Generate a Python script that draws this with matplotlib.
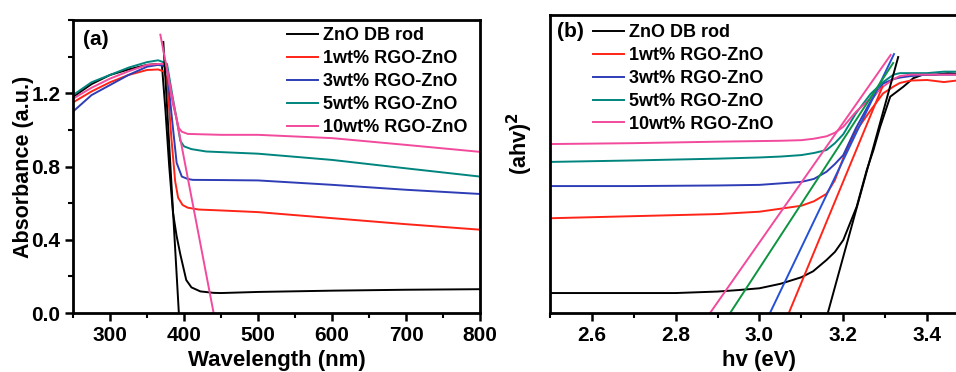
import matplotlib
matplotlib.use("Agg")
import matplotlib.pyplot as plt
from matplotlib.ticker import MultipleLocator

plt.rcParams["font.family"] = ["Liberation Sans", "DejaVu Sans"]
plt.rcParams["font.weight"] = "bold"

labels = ["ZnO DB rod", "1wt% RGO-ZnO", "3wt% RGO-ZnO", "5wt% RGO-ZnO", "10wt% RGO-ZnO"]
colors = ["#000000", "#ff2418", "#2e3db6", "#00857e", "#f24a9c"]
fit_colors = ["#000000", "#ff2418", "#2450d6", "#0c9440", "#f24a9c"]

# ---- panel (a): absorbance spectra, wavelength in nm
wl_black = [250, 275, 300, 325, 350, 365, 370, 375, 380, 385, 390, 395, 403, 410, 422, 440, 450, 500, 600, 700, 800]
ab_black = [1.18, 1.25, 1.30, 1.33, 1.355, 1.36, 1.36, 1.10, 0.80, 0.55, 0.42, 0.32, 0.18, 0.14, 0.118, 0.11, 0.109, 0.115, 0.122, 0.127, 0.13]

wl_red = [250, 275, 300, 325, 350, 365, 372, 377, 383, 388, 392, 398, 405, 420, 450, 500, 600, 700, 800]
ab_red = [1.15, 1.21, 1.26, 1.30, 1.327, 1.33, 1.32, 1.28, 0.95, 0.72, 0.63, 0.59, 0.575, 0.565, 0.56, 0.551, 0.518, 0.485, 0.455]
wl_blue = [250, 275, 300, 325, 350, 365, 372, 377, 384, 390, 397, 405, 412, 450, 500, 600, 700, 800]
ab_blue = [1.10, 1.19, 1.245, 1.30, 1.345, 1.355, 1.35, 1.33, 1.05, 0.82, 0.745, 0.732, 0.727, 0.726, 0.724, 0.70, 0.673, 0.65]
wl_teal = [250, 275, 300, 325, 350, 365, 372, 377, 385, 390, 395, 400, 410, 430, 500, 600, 700, 800]
ab_teal = [1.19, 1.26, 1.30, 1.34, 1.37, 1.38, 1.37, 1.36, 1.17, 1.06, 0.94, 0.91, 0.895, 0.882, 0.87, 0.836, 0.79, 0.745]
wl_pink = [250, 275, 300, 325, 350, 365, 372, 376, 380, 385, 390, 393, 397, 405, 450, 500, 600, 700, 800]
ab_pink = [1.17, 1.23, 1.28, 1.32, 1.355, 1.36, 1.36, 1.36, 1.25, 1.14, 1.06, 1.01, 0.99, 0.978, 0.973, 0.973, 0.955, 0.918, 0.88]

fit_a_black = ([372, 393], [1.48, 0.0])
fit_a_pink = ([368, 440], [1.52, 0.0])

# ---- panel (b): Tauc plot, photon energy in eV (arbitrary y units)
ev_black = [2.5, 2.7, 2.8, 2.9, 2.95, 3.0, 3.05, 3.1, 3.128, 3.16, 3.18, 3.2, 3.232, 3.256, 3.272, 3.288, 3.312, 3.343, 3.367, 3.39, 3.42, 3.45, 3.5]
tau_black = [0.067, 0.067, 0.067, 0.072, 0.077, 0.083, 0.098, 0.12, 0.14, 0.178, 0.205, 0.245, 0.357, 0.48, 0.547, 0.625, 0.726, 0.759, 0.788, 0.80, 0.80, 0.805, 0.80]

ev_col = [2.5, 2.7, 2.9, 3.0, 3.05, 3.1, 3.13, 3.16, 3.18, 3.2, 3.23, 3.265, 3.295, 3.32, 3.335, 3.36, 3.4, 3.44, 3.47, 3.5]
tau_red = [0.318, 0.325, 0.332, 0.34, 0.35, 0.36, 0.375, 0.40, 0.446, 0.52, 0.61, 0.68, 0.737, 0.76, 0.772, 0.78, 0.782, 0.775, 0.78, 0.78]
tau_blue = [0.426, 0.426, 0.428, 0.43, 0.435, 0.44, 0.45, 0.474, 0.50, 0.53, 0.62, 0.71, 0.77, 0.785, 0.79, 0.795, 0.80, 0.80, 0.80, 0.80]
tau_teal = [0.507, 0.512, 0.518, 0.522, 0.525, 0.53, 0.537, 0.547, 0.57, 0.60, 0.67, 0.735, 0.775, 0.80, 0.805, 0.805, 0.805, 0.81, 0.81, 0.81]
tau_pink = [0.567, 0.57, 0.575, 0.577, 0.578, 0.58, 0.585, 0.593, 0.605, 0.625, 0.675, 0.72, 0.76, 0.785, 0.795, 0.80, 0.80, 0.80, 0.80, 0.80]

fit_b_x = [[3.163, 3.331], [3.07, 3.293], [3.025, 3.321], [2.93, 3.319], [2.882, 3.313]]
fit_b_y = [[0.0, 0.859], [0.0, 0.758], [0.0, 0.869], [0.0, 0.839], [0.0, 0.866]]

fig = plt.figure(figsize=(9.56, 3.72), dpi=100)
ax1 = fig.add_axes([0.0764, 0.1586, 0.4257, 0.7876])
ax2 = fig.add_axes([0.5753, 0.1586, 0.4383, 0.8010])

lw = 1.4
ax1.plot(wl_black, ab_black, color=colors[0], lw=lw, label=labels[0])
ax1.plot(wl_red, ab_red, color=colors[1], lw=lw, label=labels[1])
ax1.plot(wl_blue, ab_blue, color=colors[2], lw=lw, label=labels[2])
ax1.plot(wl_teal, ab_teal, color=colors[3], lw=lw, label=labels[3])
ax1.plot(wl_pink, ab_pink, color=colors[4], lw=lw, label=labels[4])
ax1.plot(*fit_a_black, color=colors[0], lw=lw)
ax1.plot(*fit_a_pink, color=colors[4], lw=lw)

ax1.set_xlim(250, 800)
ax1.set_ylim(0, 1.6)
ax1.xaxis.set_minor_locator(MultipleLocator(50))
ax1.yaxis.set_minor_locator(MultipleLocator(0.2))
ax1.set_xticks([300, 400, 500, 600, 700, 800])
ax1.set_yticks([0.0, 0.4, 0.8, 1.2])
ax1.set_xlabel("Wavelength (nm)", fontsize=16, fontweight="bold", labelpad=4)
ax1.set_ylabel("Absorbance (a.u.)", fontsize=15.5, fontweight="bold")
ax1.yaxis.set_label_coords(-0.097, 0.5)
ax1.text(0.025, 0.965, "(a)", transform=ax1.transAxes, fontsize=15, fontweight="bold", va="top")
leg_kw = dict(loc="upper left", frameon=False, handlelength=1.72, handletextpad=0.28,
              labelspacing=0.33, borderpad=0, borderaxespad=0,
              prop={"weight": "bold", "size": 13})
ax1.legend(bbox_to_anchor=(0.526, 0.976), **leg_kw)

ax2.plot(ev_black, tau_black, color=colors[0], lw=lw, label=labels[0])
ax2.plot(ev_col, tau_red, color=colors[1], lw=lw, label=labels[1])
ax2.plot(ev_col, tau_blue, color=colors[2], lw=lw, label=labels[2])
ax2.plot(ev_col, tau_teal, color=colors[3], lw=lw, label=labels[3])
ax2.plot(ev_col, tau_pink, color=colors[4], lw=lw, label=labels[4])
for fx, fy, fc in zip(fit_b_x, fit_b_y, fit_colors):
    ax2.plot(fx, fy, color=fc, lw=lw)

ax2.set_xlim(2.5, 3.5)
ax2.set_ylim(0, 1.0)
ax2.xaxis.set_minor_locator(MultipleLocator(0.1))
ax2.set_xticks([2.6, 2.8, 3.0, 3.2, 3.4])
ax2.set_yticks([])
ax2.set_xlabel("hv (eV)", fontsize=16, fontweight="bold", labelpad=4)
ax2.set_ylabel("(ahv)$^2$", fontsize=15.5, fontweight="bold")
ax2.yaxis.set_label_coords(-0.036, 0.57)
ax2.text(0.017, 0.975, "(b)", transform=ax2.transAxes, fontsize=15, fontweight="bold", va="top")
ax2.legend(bbox_to_anchor=(0.1026, 0.970), **leg_kw)

for ax in (ax1, ax2):
    for s in ax.spines.values():
        s.set_linewidth(2)
    ax.tick_params(which="major", direction="out", length=6, width=1.8, labelsize=15, pad=3)
    ax.tick_params(which="minor", direction="out", length=3.5, width=1.5)
    for t in ax.get_xticklabels() + ax.get_yticklabels():
        t.set_fontweight("bold")

fig.savefig("out.png", dpi=100, facecolor="white")
